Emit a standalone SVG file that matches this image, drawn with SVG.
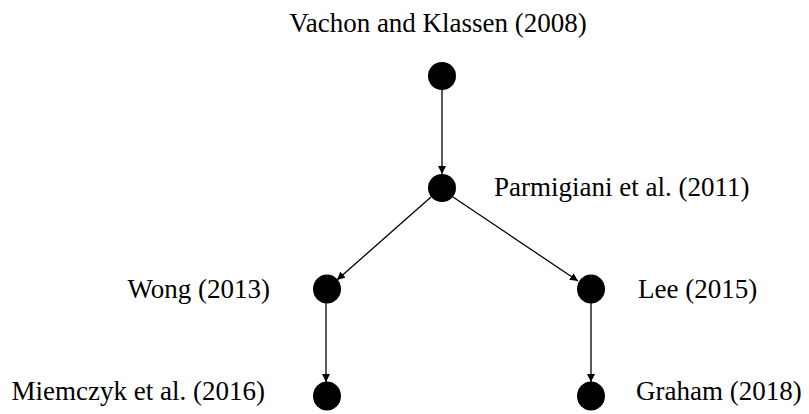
<svg xmlns="http://www.w3.org/2000/svg" width="809" height="414" viewBox="0 0 809 414">
<style>
.n{fill:#000}
.t{font-family:"Liberation Serif","Times New Roman",serif;font-size:27px;fill:#000}
.e{stroke:#000;stroke-width:1.3;fill:none;marker-end:url(#a)}
</style>
<defs>
<marker id="a" viewBox="0 0 10 10" refX="10" refY="5" markerWidth="8" markerHeight="8" markerUnits="userSpaceOnUse" orient="auto">
<path d="M0,0 L10,5 L0,10 z" fill="#000"/>
</marker>
</defs>
<rect width="809" height="414" fill="#fff"/>
<g id="connectors">
<line class="e" x1="442" y1="90" x2="442" y2="174"/>
<line class="e" x1="431" y1="197" x2="337" y2="280"/>
<line class="e" x1="453" y1="197" x2="578" y2="281"/>
<line class="e" x1="326" y1="303" x2="326" y2="382"/>
<line class="e" x1="591" y1="303" x2="591" y2="382"/>
</g>
<g id="vachon"><circle class="n" cx="442" cy="76" r="14"/><text class="t" x="438" y="32" text-anchor="middle">Vachon and Klassen (2008)</text></g>
<g id="parmigiani"><circle class="n" cx="442" cy="188" r="14"/><text class="t" x="494" y="196">Parmigiani et al. (2011)</text></g>
<g id="wong"><ellipse class="n" cx="327" cy="289" rx="14" ry="14.5"/><text class="t" x="270" y="298" text-anchor="end">Wong (2013)</text></g>
<g id="lee"><ellipse class="n" cx="591" cy="289" rx="14" ry="14.5"/><text class="t" x="638" y="298">Lee (2015)</text></g>
<g id="miemczyk"><ellipse class="n" cx="327" cy="396" rx="14" ry="14.5"/><text class="t" x="265" y="400" text-anchor="end">Miemczyk et al. (2016)</text></g>
<g id="graham"><ellipse class="n" cx="591" cy="396" rx="14" ry="14.5"/><text class="t" x="636" y="400">Graham (2018)</text></g>
</svg>
